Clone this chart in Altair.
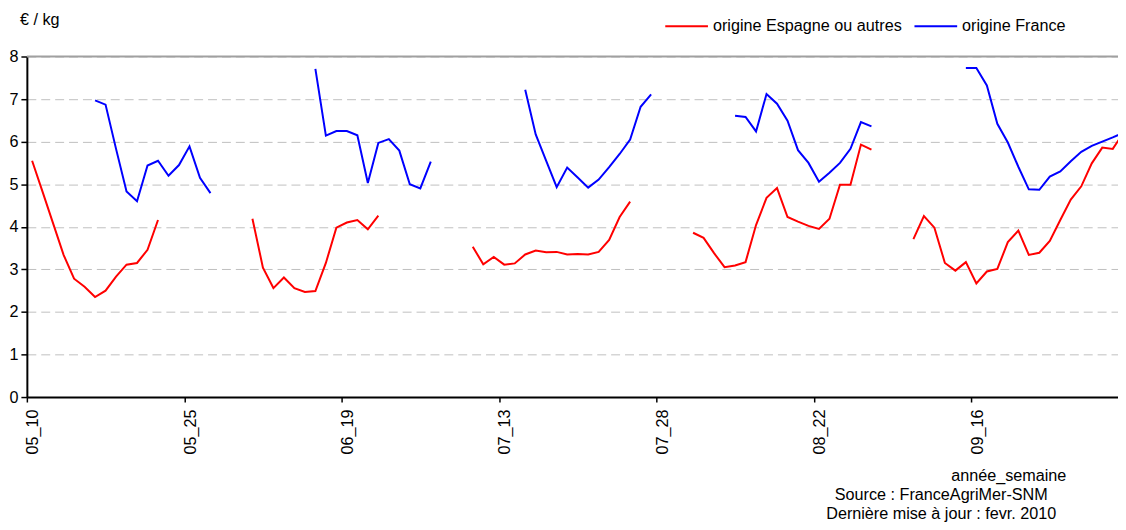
import json
import altair as alt
import pandas as pd

FONT = "Liberation Sans, Arial, sans-serif"
FS = 16.3

# ---- data ----
weeks = list(range(10, 31))            # 21 weeks per season (10 .. 30)
years = ["05", "06", "07", "08", "09"]
tick_labels = ["05_10", "05_25", "06_19", "07_13", "07_28", "08_22", "09_16"]
series_names = ["origine Espagne ou autres", "origine France"]
N = None

espagne_05 = [5.55, 4.82, 4.08, 3.34, 2.78, 2.59, 2.35, 2.50, 2.83, 3.11, 3.15, 3.46, 4.16,
              N, N, N, N, N, N, N, N]
espagne_06 = [4.19, 3.04, 2.56, 2.81, 2.56, 2.47, 2.49, 3.15, 3.98, 4.10, 4.16, 3.94, 4.26,
              N, N, N, N, N, N, N, N]
espagne_07 = [3.53, 3.12, 3.29, 3.11, 3.14, 3.35, 3.44, 3.40, 3.41, 3.35, 3.36, 3.35, 3.41,
              3.69, 4.23, 4.59, N, N, N, N, N]
espagne_08 = [3.86, 3.74, 3.38, 3.05, 3.09, 3.17, 4.04, 4.68, 4.91, 4.23, 4.12, 4.02, 3.95,
              4.19, 4.99, 4.99, 5.93, 5.81, N, N, N]
espagne_09 = [3.71, 4.25, 3.98, 3.15, 2.97, 3.17, 2.67, 2.95, 3.01, 3.64, 3.91, 3.34, 3.39,
              3.67, 4.16, 4.64, 4.95, 5.49, 5.86, 5.83, 6.20]

france_05 = [N, N, N, N, N, N, 6.97, 6.87, 5.83, 4.83, 4.60, 5.44, 5.55, 5.20, 5.45, 5.89,
             5.15, 4.79, N, N, N]
france_06 = [N, N, N, N, N, N, 7.71, 6.14, 6.25, 6.25, 6.15, 5.03, 5.97, 6.06, 5.79, 5.00,
             4.90, 5.53, N, N, N]
france_07 = [N, N, N, N, N, 7.22, 6.17, 5.55, 4.93, 5.39, 5.16, 4.92, 5.11, 5.40, 5.71, 6.05,
             6.82, 7.11, N, N, N]
france_08 = [N, N, N, N, 6.61, 6.58, 6.24, 7.12, 6.89, 6.49, 5.80, 5.50, 5.06, 5.27, 5.50,
             5.83, 6.46, 6.36, N, N, N]
france_09 = [N, N, N, N, N, 7.73, 7.73, 7.32, 6.42, 5.98, 5.41, 4.88, 4.87, 5.18, 5.30, 5.54,
             5.76, 5.90, 6.00, 6.10, 6.21]

espagne = [espagne_05, espagne_06, espagne_07, espagne_08, espagne_09]
france = [france_05, france_06, france_07, france_08, france_09]

rows = []
for yi, yy in enumerate(years):
    for k, wk in enumerate(weeks):
        idx = yi * len(weeks) + k
        for name, vals in ((series_names[0], espagne[yi]), (series_names[1], france[yi])):
            v = vals[k]
            if v is not None:
                rows.append({"idx": idx, "semaine": f"{yy}_{wk}", "annee": yy,
                             "origine": name, "prix": v})
df = pd.DataFrame(rows)

label_expr = f"{json.dumps(tick_labels)}[round((datum.value + 0.5) / 15)]"

x_enc = alt.X(
    "idx:Q",
    scale=alt.Scale(domain=[-0.5, 103.5], nice=False, zero=False),
    axis=alt.Axis(
        values=[-0.5 + 15 * i for i in range(len(tick_labels))],
        labelExpr=label_expr, title=None, grid=False,
        labelAngle=270, labelAlign="right", labelBaseline="middle",
        labelOffset=6, labelPadding=7, labelFlush=False, labelOverlap=False,
        tickSize=5, tickColor="black", tickWidth=1.5,
        domainColor="black", domainWidth=2,
        labelFont=FONT, labelFontSize=FS, labelColor="black",
    ),
)
y_enc = alt.Y(
    "prix:Q",
    scale=alt.Scale(domain=[0, 8], nice=False, zero=True),
    axis=alt.Axis(
        values=list(range(9)), title=None,
        grid=True, gridDash=[9, 5], gridColor="#c0c0c0", gridWidth=1,
        tickSize=6, tickColor="black", tickWidth=1.5,
        domainColor="black", domainWidth=2,
        labelPadding=3, labelFont=FONT, labelFontSize=FS, labelColor="black",
    ),
)

lines = alt.Chart(df).mark_line(strokeWidth=2, clip=True).encode(
    x=x_enc,
    y=y_enc,
    color=alt.Color(
        "origine:N",
        scale=alt.Scale(domain=series_names, range=["#ff0000", "#0000ff"]),
        legend=alt.Legend(
            title=None, orient="none", legendX=642, legendY=-53,
            direction="horizontal", symbolType="stroke", symbolSize=1849,
            symbolStrokeWidth=2, labelFont=FONT, labelFontSize=FS,
            labelColor="black", labelOffset=4, columnPadding=8, padding=0,
            labelLimit=0,
        ),
    ),
    detail="annee:N",
    order="idx:Q",
)

one = alt.Data(values=[{}])
top_border = alt.Chart(one).mark_rule(color="#a0a0a0", strokeWidth=2).encode(
    y=alt.datum(8)
)

def label(txt, x, y, align):
    return alt.Chart(one).mark_text(
        text=txt, align=align, baseline="alphabetic", font=FONT, fontSize=FS, color="black"
    ).encode(x=alt.value(x), y=alt.value(y))

unit = label("€ / kg", -7, -32, "left")
xtitle = label("année_semaine", 989, 428, "center")
source = label("Source : FranceAgriMer-SNM", 921, 447, "center")
maj = label("Dernière mise à jour : fevr. 2010", 921, 466, "center")

chart = alt.layer(lines, top_border, unit, xtitle, source, maj).properties(
    width=1099,
    height=343,
    padding={"left": 19, "top": 47, "right": 0, "bottom": 125},
    autosize=alt.AutoSizeParams(type="none"),
    background="white",
).configure_view(stroke=None)

chart.save("out.html", embed_options={"renderer": "svg", "actions": False})
